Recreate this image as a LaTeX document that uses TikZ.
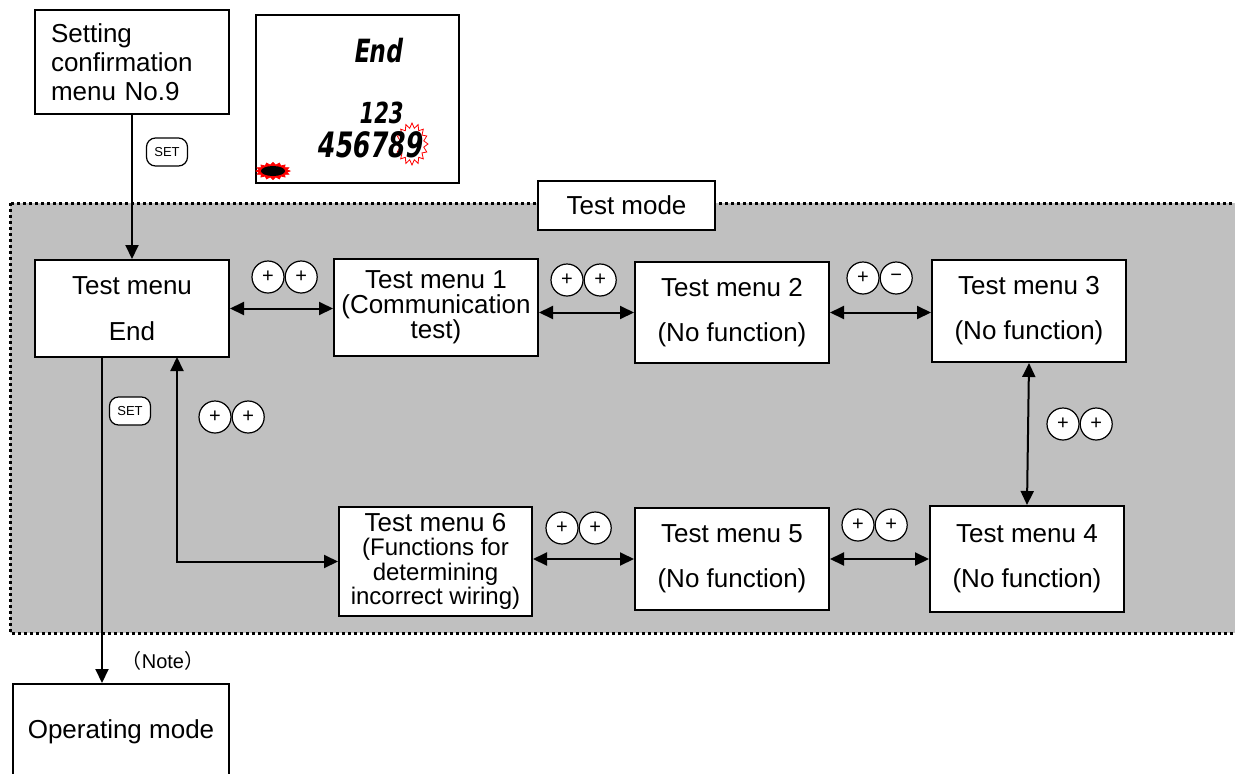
\documentclass[tikz,border=0pt]{standalone}
\usepackage{fontspec}
\setmainfont{Liberation Sans}
\newfontfamily\lcdfont[FakeSlant=0.15, FakeStretch=0.72]{DejaVu Sans}
\newfontfamily\cjkfont{Noto Sans CJK JP}
\usepackage{xcolor}
\definecolor{modegray}{HTML}{C0C0C0}
\definecolor{blinkred}{HTML}{FF0000}
\usetikzlibrary{arrows.meta, positioning, calc}

\begin{document}
\begin{tikzpicture}[
    x=1pt, y=-1pt,
    font=\fontsize{26}{30}\selectfont,
    menubox/.style={
        rectangle, draw=black, fill=white, line width=2pt,
        anchor=north west, align=center, inner sep=0pt,
    },
    arr/.style={
        -{Triangle[length=14pt, width=13pt]}, line width=2pt,
    },
    dblarr/.style={
        {Triangle[length=14pt, width=13pt]}-{Triangle[length=14pt, width=13pt]},
        line width=2pt,
    },
    keybtn/.style={
        circle, draw, fill=white, line width=1.2pt,
        minimum size=32pt, inner sep=0pt,
        font=\fontsize{20}{20}\selectfont,
    },
    setbtn/.style={
        rectangle, rounded corners=9pt, draw, fill=white, line width=1.2pt,
        minimum width=41pt, minimum height=28pt, inner sep=0pt,
        font=\fontsize{13}{13}\selectfont,
    },
    lcdtext/.style={
        anchor=base east, inner sep=0pt,
    },
]
\useasboundingbox (0,0) rectangle (1235,774);

% -- Test mode frame --
\fill[modegray] (10,203) rectangle (1250,633);
\draw[line width=3pt, dash pattern=on 3pt off 3pt] (10,203) rectangle (1250,633);

% -- Setting confirmation and display --
\node[menubox, minimum width=194pt, minimum height=104pt, align=left,
    text width=162pt, inner xsep=16pt, font=\fontsize{26}{29}\selectfont]
    (setm) at (34,9) {Setting\\confirmation\\menu No.9};

\node[menubox, minimum width=203pt, minimum height=168pt] (lcd) at (255,14) {};
\draw[blinkred, line width=0.8pt, fill=white]
    plot[domain=0:360, samples=33]
    ({412+(16-4*mod(round(\x/11.25),2))*cos(\x)}, {144+(21-5*mod(round(\x/11.25),2))*sin(\x)}) -- cycle;
\draw[blinkred, line width=0.8pt, fill=blinkred]
    plot[domain=0:360, samples=33]
    ({273+(17-3*mod(round(\x/11.25),2))*cos(\x)}, {171+(8.5-2.5*mod(round(\x/11.25),2))*sin(\x)}) -- cycle;
\fill[black] (273,171) ellipse[x radius=12pt, y radius=5pt];
\node[lcdtext, font=\lcdfont\bfseries\fontsize{32}{32}\selectfont] (lcdend) at (402,62) {End};
\node[lcdtext, font=\lcdfont\bfseries\fontsize{29}{29}\selectfont] (lcdtop) at (402,123) {123};
\node[lcdtext, font=\lcdfont\bfseries\fontsize{35}{35}\selectfont] (lcdbot) at (422,157) {456789};

% -- Test menus --
\node[menubox, minimum width=194pt, minimum height=97pt] (tmE) at (34,259) {Test menu\\[16pt]End};
\node[menubox, minimum width=204pt, minimum height=97pt, font=\fontsize{26}{25}\selectfont]
    (tm1) at (333,258) {Test menu 1\\(Communication\\test)};
\node[menubox, minimum width=194pt, minimum height=101pt] (tm2) at (634,261) {Test menu 2\\[15pt](No function)};
\node[menubox, minimum width=194pt, minimum height=102pt] (tm3) at (931,259) {Test menu 3\\[15pt](No function)};
\node[menubox, minimum width=194pt, minimum height=106pt] (tm4) at (929,505) {Test menu 4\\[15pt](No function)};
\node[menubox, minimum width=194pt, minimum height=102pt] (tm5) at (634,507) {Test menu 5\\[15pt](No function)};
\node[menubox, minimum width=193pt, minimum height=109pt, font=\fontsize{26}{24.5}\selectfont]
    (tm6) at (338,506) {Test menu 6\\{\fontsize{24}{24}\selectfont(Functions for}\\%
    {\fontsize{24}{24}\selectfont determining}\\{\fontsize{24}{24}\selectfont incorrect wiring)}};
\node[menubox, minimum width=216pt, minimum height=95pt] (opm) at (12,683) {Operating mode};

% -- Label of the frame --
\node[menubox, minimum width=177pt, minimum height=49pt] (tmode) at (537,180) {Test mode};

% -- Connectors --
\draw[arr] (setm.south) -- (tmE.north);
\draw[dblarr] (tmE.east) -- (tmE.east -| tm1.west);
\draw[dblarr] (tm2.west -| tm1.east) -- (tm2.west);
\draw[dblarr] (tm2.east) -- (tm2.east -| tm3.west);
\draw[dblarr] (tm3.south) -- (tm4.north);
\draw[dblarr] (tm5.east) -- (tm5.east -| tm4.west);
\draw[dblarr] (tm5.west -| tm6.east) -- (tm5.west);
\coordinate (upfoot) at (177,357);
\draw[dblarr] (upfoot) |- (tm6.west);
\coordinate (dnfoot) at (102,357);
\draw[arr] (dnfoot) -- (dnfoot |- opm.north);

% -- Keys --
\node[setbtn] (set1) at (167,152) {SET};
\node[setbtn] (set2) at (130,411) {SET};
\node[keybtn] (k1a) at (268,277) {+};
\node[keybtn, right=0pt of k1a] (k1b) {+};
\node[keybtn] (k2a) at (567,280) {+};
\node[keybtn, right=0pt of k2a] (k2b) {+};
\node[keybtn] (k3a) at (863,278) {+};
\node[keybtn, right=0pt of k3a] (k3b) {−};
\node[keybtn] (k4a) at (1063,424) {+};
\node[keybtn, right=0pt of k4a] (k4b) {+};
\node[keybtn] (k5a) at (858,525) {+};
\node[keybtn, right=0pt of k5a] (k5b) {+};
\node[keybtn] (k6a) at (562,528) {+};
\node[keybtn, right=0pt of k6a] (k6b) {+};
\node[keybtn] (k7a) at (215,417) {+};
\node[keybtn, right=0pt of k7a] (k7b) {+};

\node[font=\fontsize{20}{20}\selectfont] (note) at (163,661) {{\cjkfont （}Note{\cjkfont ）}};

\end{tikzpicture}
\end{document}
